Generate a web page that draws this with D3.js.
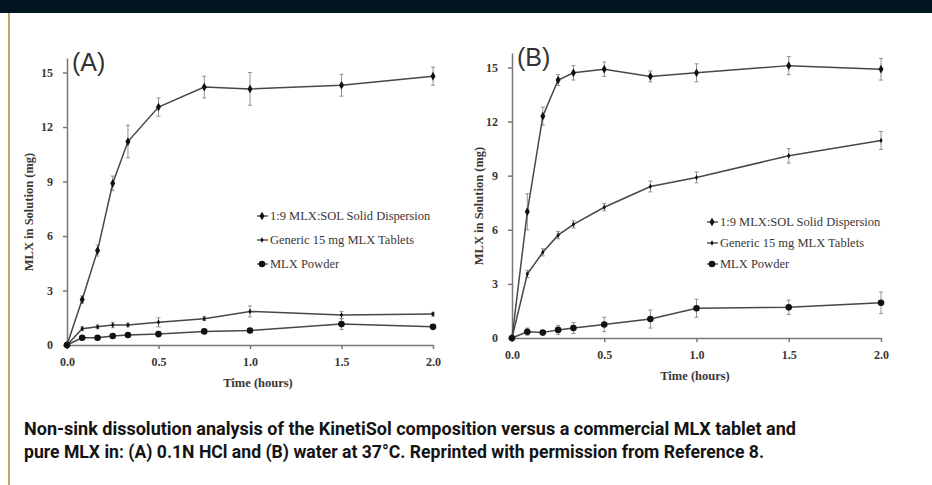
<!DOCTYPE html>
<head>
<meta charset="utf-8">
<style type="text/css">
body { margin: 0; background: #fff; }
svg text { font-family: "Liberation Serif", "DejaVu Serif", serif; }
.axis path, .axis line { stroke: #7d7676; stroke-width: 1.5; }
.axis text { font-size: 12px; font-weight: bold; fill: #3a3636; }
.series { fill: none; stroke: #4b4545; stroke-width: 1.5; }
.err { stroke: #8a8484; stroke-width: 0.9; }
.legend text { font-size: 12.5px; fill: #3a3636; }
.axlabel { font-size: 12.5px; font-weight: bold; fill: #3a3636; }
.panel-title { font-family: "Liberation Sans", "Open Sans", sans-serif !important; font-size: 25px; fill: #333; }
.caption { font-family: "Roboto", "Liberation Sans", sans-serif !important; font-weight: bold; font-size: 18px; fill: #141414; }
</style>
</head>
<body>
<script src="https://d3js.org/d3.v7.min.js"></script>
<script type="text/javascript">
  // sampling times (hours)
  var times = [0, 0.083, 0.167, 0.25, 0.333, 0.5, 0.75, 1.0, 1.5, 2.0];
  var seriesNames = ['1:9 MLX:SOL Solid Dispersion', 'Generic 15 mg MLX Tablets', 'MLX Powder'];
  var yTicks = [0, 3, 6, 9, 12, 15];
  var xTicks = [0, 0.5, 1.0, 1.5, 2.0];

  // (A) 0.1N HCl
  var hclDispersion    = [0, 2.5, 5.2, 8.9, 11.2, 13.1, 14.2, 14.1, 14.3, 14.8];
  var hclDispersionErr = [0, 0.2, 0.3, 0.4, 0.9, 0.5, 0.6, 0.9, 0.6, 0.5];
  var hclTablets       = [0, 0.9, 1.0, 1.1, 1.1, 1.25, 1.45, 1.85, 1.65, 1.7];
  var hclTabletsErr    = [0, 0.1, 0.1, 0.15, 0.1, 0.25, 0.1, 0.3, 0.2, 0.1];
  var hclPowder        = [0, 0.4, 0.4, 0.5, 0.55, 0.6, 0.75, 0.8, 1.15, 1.0];
  var hclPowderErr     = [0, 0.05, 0.05, 0.1, 0.1, 0.15, 0.1, 0.1, 0.3, 0.1];

  // (B) water
  var waterDispersion    = [0, 7.0, 12.3, 14.3, 14.7, 14.9, 14.5, 14.7, 15.1, 14.9];
  var waterDispersionErr = [0, 1.0, 0.5, 0.3, 0.4, 0.4, 0.3, 0.5, 0.5, 0.6];
  var waterTablets       = [0, 3.55, 4.75, 5.7, 6.3, 7.25, 8.4, 8.9, 10.1, 10.95];
  var waterTabletsErr    = [0, 0.2, 0.2, 0.2, 0.2, 0.2, 0.3, 0.3, 0.4, 0.5];
  var waterPowder        = [0, 0.35, 0.3, 0.45, 0.55, 0.75, 1.05, 1.65, 1.7, 1.95];
  var waterPowderErr     = [0, 0.2, 0.1, 0.25, 0.3, 0.4, 0.5, 0.5, 0.4, 0.6];

  var captionLines = [
    'Non-sink dissolution analysis of the KinetiSol composition versus a commercial MLX tablet and',
    'pure MLX in: (A) 0.1N HCl and (B) water at 37\u00B0C. Reprinted with permission from Reference 8.'
  ];
  var captionWidths = [772, 740];

  var W = 932, H = 485;
  var svg = d3.select('body').append('svg')
          .attr('width', W)
          .attr('height', H);

  // header band + gold rule
  svg.append('rect').attr('x', 0).attr('y', 0).attr('width', W).attr('height', 13).attr('fill', '#021622');
  svg.append('rect').attr('x', 8).attr('y', 13).attr('width', 2).attr('height', H - 13).attr('fill', '#c9a26a');

  // marker shapes per series
  var markers = [
    d3.symbol().type(d3.symbolDiamond).size(22),
    d3.symbol().type(d3.symbolDiamond).size(9),
    d3.symbol().type(d3.symbolCircle).size(34)
  ];

  function drawPanel(p) {
    var x = d3.scaleLinear().domain([0, 2]).range([p.left, p.right]);
    var y = d3.scaleLinear().domain([0, 15.8]).range([p.bottom, p.top]);
    var g = svg.append('g');

    g.append('g').attr('class', 'axis')
        .attr('transform', 'translate(0,' + p.bottom + ')')
        .call(d3.axisBottom(x).tickValues(xTicks).tickSize(4).tickSizeOuter(0).tickPadding(8)
          .tickFormat(d3.format('.1f')));
    g.append('g').attr('class', 'axis')
        .attr('transform', 'translate(' + p.left + ',0)')
        .call(d3.axisLeft(y).tickValues(yTicks).tickSize(4).tickSizeOuter(0).tickPadding(10));

    var line = d3.line().x(function(d){ return x(d.t); }).y(function(d){ return y(d.v); });

    p.series.forEach(function(s, k) {
      var pts = times.map(function(t, i){ return {t: t, v: s.values[i], e: s.err[i]}; });
      // error bars
      var eb = g.selectAll('.eb' + k).data(pts.filter(function(d){ return d.e > 0; })).enter().append('g');
      eb.append('line').attr('class', 'err')
          .attr('x1', function(d){ return x(d.t); }).attr('x2', function(d){ return x(d.t); })
          .attr('y1', function(d){ return y(d.v - d.e); }).attr('y2', function(d){ return y(d.v + d.e); });
      [-1, 1].forEach(function(sgn) {
        eb.append('line').attr('class', 'err')
            .attr('x1', function(d){ return x(d.t) - 2; }).attr('x2', function(d){ return x(d.t) + 2; })
            .attr('y1', function(d){ return y(d.v + sgn * d.e); }).attr('y2', function(d){ return y(d.v + sgn * d.e); });
      });
      g.append('path').datum(pts).attr('class', 'series').attr('d', line);
      g.selectAll('.m' + k).data(pts).enter().append('path')
          .attr('d', markers[k])
          .attr('fill', '#111')
          .attr('transform', function(d){ return 'translate(' + x(d.t) + ',' + y(d.v) + ')'; });
    });

    // legend
    var lg = g.append('g').attr('class', 'legend');
    seriesNames.forEach(function(name, k) {
      var ly = p.legendY + k * p.legendGap;
      lg.append('line').attr('x1', p.legendX).attr('x2', p.legendX + 11)
          .attr('y1', ly).attr('y2', ly).attr('stroke', '#333').attr('stroke-width', 1.2);
      lg.append('path').attr('d', markers[k]).attr('fill', '#111')
          .attr('transform', 'translate(' + (p.legendX + 5) + ',' + ly + ')');
      lg.append('text').attr('x', p.legendX + 13).attr('y', ly + 4).text(name);
    });

    g.append('text').attr('class', 'axlabel')
        .attr('transform', 'translate(' + p.yLabelX + ',' + p.yLabelY + ') rotate(-90)')
        .attr('text-anchor', 'middle').text('MLX in Solution (mg)');
    g.append('text').attr('class', 'axlabel')
        .attr('x', p.xLabelX).attr('y', p.bottom + 42)
        .attr('text-anchor', 'middle').text('Time (hours)');
    g.append('text').attr('class', 'panel-title')
        .attr('x', p.left + 5).attr('y', p.top + 13).text(p.title);
  }

  drawPanel({
    title: '(A)', left: 67, right: 433, top: 58, bottom: 345,
    legendX: 257, legendY: 216, legendGap: 24,
    yLabelX: 33, yLabelY: 212, xLabelX: 258,
    series: [
      {values: hclDispersion, err: hclDispersionErr},
      {values: hclTablets, err: hclTabletsErr},
      {values: hclPowder, err: hclPowderErr}
    ]
  });

  drawPanel({
    title: '(B)', left: 512, right: 881, top: 53, bottom: 338,
    legendX: 707, legendY: 222, legendGap: 21,
    yLabelX: 483, yLabelY: 206, xLabelX: 695,
    series: [
      {values: waterDispersion, err: waterDispersionErr},
      {values: waterTablets, err: waterTabletsErr},
      {values: waterPowder, err: waterPowderErr}
    ]
  });

  svg.selectAll('.caption').data(captionLines).enter().append('text')
      .attr('class', 'caption')
      .attr('x', 24)
      .attr('y', function(d, i){ return 435 + i * 23; })
      .attr('textLength', function(d, i){ return captionWidths[i]; })
      .attr('lengthAdjust', 'spacingAndGlyphs')
      .text(function(d){ return d; });
</script>
</body>
